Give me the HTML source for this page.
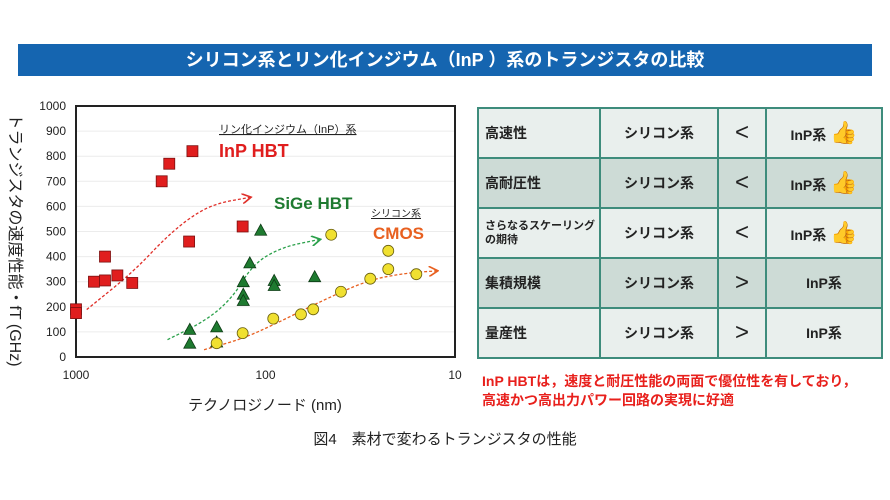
<!DOCTYPE html>
<html><head><meta charset="utf-8">
<style>
body{margin:0;width:890px;height:500px;background:#fff;overflow:hidden;font-family:"Liberation Sans","Noto Sans CJK JP",sans-serif;position:relative}
.abs{position:absolute}
#title{left:18px;top:44px;width:854px;height:32px;background:#1565b0;color:#fff;font-weight:bold;font-size:18px;line-height:32px;text-align:center}
table{position:absolute;left:477px;top:107px;border-collapse:collapse;font-weight:bold;font-size:14px;color:#222}
td{border:2px solid #3e8c7c;height:48px;padding:0}
tr:nth-child(odd) td{background:#e9efed}
tr:nth-child(even) td{background:#cddbd6}
.c1{width:114px;padding-left:6px;white-space:nowrap}
.c2{width:116px;text-align:center}
.c3{width:46px;text-align:center;font-size:24px;font-weight:normal}
.c4{width:114px;text-align:center}
.thumb{font-size:22px;color:#f0a020}
#note{left:482px;top:372px;color:#e8201c;font-weight:bold;font-size:14px;line-height:19px}
#cap{left:0;width:890px;top:428px;text-align:center;font-size:15px;color:#222}
</style></head><body>
<div id="title" class="abs">シリコン系とリン化インジウム（InP ）系のトランジスタの比較</div>
<svg class="abs" style="left:0;top:0" width="470" height="420" id="chart"></svg>
<table>
<tr><td class="c1">高速性</td><td class="c2">シリコン系</td><td class="c3">&lt;</td><td class="c4">InP系 <span class="thumb">👍</span></td></tr>
<tr><td class="c1">高耐圧性</td><td class="c2">シリコン系</td><td class="c3">&lt;</td><td class="c4">InP系 <span class="thumb">👍</span></td></tr>
<tr><td class="c1" style="font-size:11px;line-height:14px">さらなるスケーリング<br>の期待</td><td class="c2">シリコン系</td><td class="c3">&lt;</td><td class="c4">InP系 <span class="thumb">👍</span></td></tr>
<tr><td class="c1">集積規模</td><td class="c2">シリコン系</td><td class="c3">&gt;</td><td class="c4">InP系</td></tr>
<tr><td class="c1">量産性</td><td class="c2">シリコン系</td><td class="c3">&gt;</td><td class="c4">InP系</td></tr>
</table>
<div id="note" class="abs">InP HBTは，速度と耐圧性能の両面で優位性を有しており，<br>高速かつ高出力パワー回路の実現に好適</div>
<div id="cap" class="abs">図4　素材で変わるトランジスタの性能</div>
<script>
const yTicks=[0,100,200,300,400,500,600,700,800,900,1000];
const xTicks=[1000,100,10];
const inpX=[1000,1000,804,703,703,605,505,353,322,243,253,132];
const inpY=[190,175,300,305,400,325,295,700,770,820,460,520];
const sigeX=[251,251,181,181,131,131,131,121,106,90,90,55];
const sigeY=[110,55,120,60,300,250,225,375,505,305,285,320];
const cmosX=[181,132,91,65,56,45,40,28,22.5,22.5,16];
const cmosY=[55,95,153,170,190,487,260,312,423,350,330];
const inpTrendX=[878,499,333,241,182,121];
const inpTrendY=[189,339,479,565,612,636];
const sigeTrendX=[329,205,148,116,81,52];
const sigeTrendY=[69,146,239,372,439,468];
const cmosTrendX=[211,132,88,54,29,18,12.5];
const cmosTrendY=[29,73,133,213,306,335,343];
const L=76,R=455,T=106,B=357;
const sx=v=>L+(3-Math.log10(v))/2*(R-L);
const sy=v=>B-v/1000*(B-T);
const svg=document.getElementById('chart');const NS='http://www.w3.org/2000/svg';
function mk(t,a,p){const e=document.createElementNS(NS,t);for(const k in a)e.setAttribute(k,a[k]);(p||svg).appendChild(e);return e;}
mk('defs',{}).innerHTML='<marker id="ar" markerWidth="8" markerHeight="8" refX="6" refY="4" orient="auto"><path d="M0,0L7,4L0,8" fill="none" stroke="context-stroke" stroke-width="1.3"/></marker>';
yTicks.forEach(v=>{const g=mk('line',{x1:L,x2:R,y1:sy(v),y2:sy(v),stroke:'#ececec'});
const t=mk('text',{x:L-10,y:sy(v)+4,'text-anchor':'end','font-size':12,fill:'#222'});t.textContent=v;});
xTicks.forEach(v=>{const t=mk('text',{x:sx(v),y:B+22,'text-anchor':'middle','font-size':12,fill:'#222'});t.textContent=v;});
const fr=mk('rect',{x:L,y:T,width:R-L,height:B-T,fill:'none',stroke:'#222','stroke-width':2});
function trend(xs,ys,c,n){const pts=xs.map((x,i)=>[sx(x),sy(ys[i])]);let d='M'+pts[0];for(let i=1;i<pts.length;i++){const p0=pts[i-1],p1=pts[i];const mx=(p0[0]+p1[0])/2;d+=' Q'+p0[0]+','+p0[1]+' '+mx+','+(p0[1]+p1[1])/2;}d+=' L'+pts[pts.length-1];
const e=mk('path',{d:d,fill:'none',stroke:c,'stroke-width':1.3,'stroke-dasharray':'3,2','marker-end':'url(#ar)'});}
trend(inpTrendX,inpTrendY,'#e0302a','inp-trend-arrow');
trend(sigeTrendX,sigeTrendY,'#2aa04a','sige-trend-arrow');
trend(cmosTrendX,cmosTrendY,'#e86020','cmos-trend-arrow');
inpX.forEach((x,i)=>{const e=mk('rect',{x:sx(x)-5.5,y:sy(inpY[i])-5.5,width:11,height:11,fill:'#e01e1e',stroke:'#7a1010','stroke-width':0.8});});
sigeX.forEach((x,i)=>{const cx=sx(x),cy=sy(sigeY[i]);const e=mk('polygon',{points:`${cx},${cy-6} ${cx-6},${cy+5} ${cx+6},${cy+5}`,fill:'#1e7a30',stroke:'#0d3a15','stroke-width':0.8});});
cmosX.forEach((x,i)=>{const e=mk('circle',{cx:sx(x),cy:sy(cmosY[i]),r:5.5,fill:'#f0e030',stroke:'#6a6010','stroke-width':0.8});});
function txt(x,y,s,sz,c,w,n,extra){const t=mk('text',Object.assign({x:x,y:y,'font-size':sz,fill:c,'font-weight':w},extra||{}));t.textContent=s;return t;}
txt(219,133,'リン化インジウム（InP）系',11,'#222','normal','inp-family-label',{'text-decoration':'underline'});
txt(219,157,'InP HBT',18,'#e01e1e','bold','inp-hbt-label');
txt(274,209,'SiGe HBT',17,'#1e7a30','bold','sige-hbt-label');
txt(371,217,'シリコン系',10,'#222','normal','silicon-family-label',{'text-decoration':'underline'});
txt(373,239,'CMOS',17,'#e86020','bold','cmos-label');
txt(265,410,'テクノロジノード (nm)',15,'#222','normal','x-axis-title',{'text-anchor':'middle'});
const yt=txt(0,0,'トランジスタの速度性能・fT (GHz)',16,'#222','normal','y-axis-title',{'text-anchor':'middle',transform:'translate(10,240) rotate(90)'});
</script>
</body></html>
